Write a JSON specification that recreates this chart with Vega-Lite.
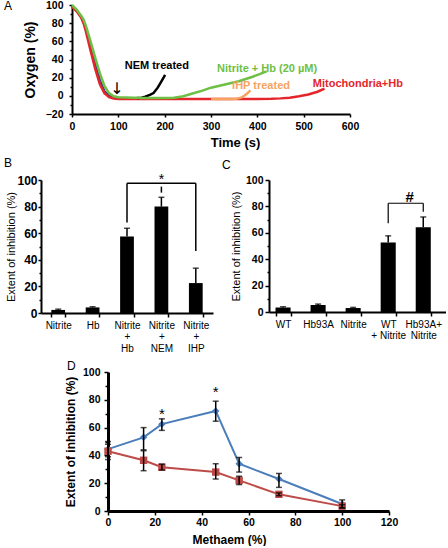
{
"$schema": "https://vega.github.io/schema/vega-lite/v6.json",
"background": "white",
"padding": {"left": 4, "top": 0, "right": 0, "bottom": 0},
"config": {
  "font": "Liberation Sans",
  "view": {"stroke": null},
  "axis": {"grid": false, "domainColor": "#000", "tickColor": "#000", "labelColor": "#000", "titleColor": "#000", "labelFont": "Liberation Sans", "titleFont": "Liberation Sans", "labelFontWeight": "bold", "titleFontWeight": "bold", "domainWidth": 2, "tickWidth": 1.5, "labelOverlap": false, "labelFlush": false},
  "title": {"font": "Liberation Sans", "fontSize": 12, "fontWeight": "normal", "anchor": "start", "frame": "group", "color": "#000"}
},
"resolve": {"scale": {"color": "independent", "shape": "independent"}},
"datasets": {
  "curves": [
    {"s":"Mito","t":0,"o":99},{"s":"Mito","t":10,"o":94},{"s":"Mito","t":20,"o":87},{"s":"Mito","t":30,"o":74},{"s":"Mito","t":40,"o":54},{"s":"Mito","t":50,"o":35},{"s":"Mito","t":60,"o":17},{"s":"Mito","t":70,"o":5},{"s":"Mito","t":80,"o":0},{"s":"Mito","t":90,"o":-2},{"s":"Mito","t":100,"o":-3},{"s":"Mito","t":150,"o":-3.2},{"s":"Mito","t":200,"o":-3.2},
    {"s":"MitoHb","t":0,"o":98},{"s":"MitoHb","t":10,"o":93},{"s":"MitoHb","t":20,"o":86},{"s":"MitoHb","t":25,"o":80},{"s":"MitoHb","t":30,"o":71},{"s":"MitoHb","t":40,"o":50},{"s":"MitoHb","t":50,"o":30},{"s":"MitoHb","t":60,"o":13},{"s":"MitoHb","t":70,"o":3},{"s":"MitoHb","t":80,"o":-1.5},{"s":"MitoHb","t":90,"o":-3},{"s":"MitoHb","t":100,"o":-3.5},{"s":"MitoHb","t":150,"o":-3.5},{"s":"MitoHb","t":200,"o":-3.5},{"s":"MitoHb","t":250,"o":-3.5},{"s":"MitoHb","t":300,"o":-3.5},{"s":"MitoHb","t":350,"o":-3.5},{"s":"MitoHb","t":400,"o":-3.5},{"s":"MitoHb","t":430,"o":-3.3},{"s":"MitoHb","t":450,"o":-2.8},{"s":"MitoHb","t":470,"o":-2},{"s":"MitoHb","t":490,"o":-0.5},{"s":"MitoHb","t":510,"o":1.5},{"s":"MitoHb","t":530,"o":4.5},{"s":"MitoHb","t":545,"o":8},
    {"s":"IHP","t":300,"o":-3.4},{"s":"IHP","t":340,"o":-3.4},{"s":"IHP","t":355,"o":-3.2},{"s":"IHP","t":365,"o":-2},{"s":"IHP","t":372,"o":0},{"s":"IHP","t":378,"o":2.5},{"s":"IHP","t":385,"o":6},
    {"s":"NEM","t":140,"o":-2.5},{"s":"NEM","t":150,"o":-2},{"s":"NEM","t":158,"o":-1},{"s":"NEM","t":168,"o":1},{"s":"NEM","t":176,"o":3},{"s":"NEM","t":185,"o":9},{"s":"NEM","t":193,"o":16},{"s":"NEM","t":201,"o":23},
    {"s":"NitriteHb","t":0,"o":100},{"s":"NitriteHb","t":10,"o":95},{"s":"NitriteHb","t":20,"o":88},{"s":"NitriteHb","t":25,"o":84},{"s":"NitriteHb","t":30,"o":77},{"s":"NitriteHb","t":40,"o":60},{"s":"NitriteHb","t":50,"o":42},{"s":"NitriteHb","t":60,"o":25},{"s":"NitriteHb","t":70,"o":11},{"s":"NitriteHb","t":80,"o":3},{"s":"NitriteHb","t":90,"o":-0.5},{"s":"NitriteHb","t":100,"o":-1.5},{"s":"NitriteHb","t":150,"o":-2.5},{"s":"NitriteHb","t":200,"o":-2.5},{"s":"NitriteHb","t":220,"o":-2},{"s":"NitriteHb","t":240,"o":-0.5},{"s":"NitriteHb","t":260,"o":2.5},{"s":"NitriteHb","t":280,"o":5.5},{"s":"NitriteHb","t":300,"o":9},{"s":"NitriteHb","t":330,"o":12.5},{"s":"NitriteHb","t":360,"o":16},{"s":"NitriteHb","t":390,"o":21},{"s":"NitriteHb","t":420,"o":27}
  ],
  "labelsA": [
    {"s":"NEM","label":"NEM treated","t":183,"o":33},
    {"s":"NitriteHb","label":"Nitrite + Hb (20 µM)","t":421,"o":30},
    {"s":"IHP","label":"IHP treated","t":408,"o":11},
    {"s":"MitoHb","label":"Mitochondria+Hb","t":617,"o":13}
  ],
  "arrowA": [{"label":"↓","t":97,"o":8}],
  "barsB": [
    {"c":"Nitrite","v":2.3,"hi":2.9},
    {"c":"Hb","v":4.2,"hi":4.7},
    {"c":"Nitrite|+|Hb","v":57.5,"hi":63.7},
    {"c":"Nitrite|+|NEM","v":80,"hi":87},
    {"c":"Nitrite|+|IHP","v":22.5,"hi":33.7}
  ],
  "bracketB": [
    {"c":"Nitrite|+|Hb","c2":"Nitrite|+|Hb","v":68,"v2":97.5},
    {"c":"Nitrite|+|Hb","c2":"Nitrite|+|IHP","v":97.5,"v2":97.5},
    {"c":"Nitrite|+|IHP","c2":"Nitrite|+|IHP","v":46.7,"v2":97.5},
    {"c":"Nitrite|+|NEM","c2":"Nitrite|+|NEM","v":90.5,"v2":95}
  ],
  "starB": [{"c":"Nitrite|+|NEM","v":100,"t":"*"}],
  "barsC": [
    {"c":"WT","v":3.5,"hi":4},
    {"c":"Hb93A","v":5.3,"hi":6},
    {"c":"Nitrite","v":3,"hi":3.5},
    {"c":"WT|+ Nitrite","v":52.7,"hi":57.7},
    {"c":"Hb93A+|Nitrite","v":64.2,"hi":72}
  ],
  "bracketC": [
    {"c":"WT|+ Nitrite","c2":"WT|+ Nitrite","v":67.3,"v2":82.4},
    {"c":"WT|+ Nitrite","c2":"Hb93A+|Nitrite","v":82.4,"v2":82.4},
    {"c":"Hb93A+|Nitrite","c2":"Hb93A+|Nitrite","v":76,"v2":82.4}
  ],
  "hashC": [{"c":"Hb93A+|Nitrite","v":87,"t":"#"}],
  "dataD": [
    {"s":"s1","x":0,"y":44.5,"lo":39,"hi":50},
    {"s":"s1","x":15.2,"y":53,"lo":44,"hi":60},
    {"s":"s1","x":23,"y":62.5,"lo":58,"hi":66.3},
    {"s":"s1","x":46,"y":72,"lo":64.6,"hi":79},
    {"s":"s1","x":56,"y":34,"lo":28,"hi":38.5},
    {"s":"s1","x":73,"y":23,"lo":17,"hi":27},
    {"s":"s1","x":100,"y":5,"lo":2,"hi":8},
    {"s":"s2","x":0,"y":43,"lo":37,"hi":48},
    {"s":"s2","x":15.2,"y":36.5,"lo":29,"hi":43.4},
    {"s":"s2","x":23,"y":31.5,"lo":29.5,"hi":33.7},
    {"s":"s2","x":46,"y":28,"lo":23,"hi":34},
    {"s":"s2","x":56,"y":22,"lo":19,"hi":25},
    {"s":"s2","x":73,"y":12,"lo":11,"hi":13},
    {"s":"s2","x":100,"y":3.5,"lo":2.5,"hi":4.5}
  ],
  "starsD": [{"x":23,"y":70,"t":"*"},{"x":46,"y":85.5,"t":"*"}]
},
"spacing": 7,
"vconcat": [
  {
    "width": 309, "height": 109,
    "title": {"text": "A", "dx": -37, "dy": 17},
    "data": {"name": "curves"},
    "layer": [
      {"transform": [{"filter": "datum.s === 'Mito'"}], "mark": {"type": "line", "strokeWidth": 2.5},
       "encoding": {
         "x": {"field": "t", "type": "quantitative", "scale": {"domain": [0, 600], "range": [31, 309]}, "axis": {"values": [0,100,200,300,400,500,600], "tickCount": 50, "title": "Time (s)", "labelFontSize": 10.5, "titleFontSize": 13, "tickSize": 3, "labelPadding": 4, "titlePadding": 5, "titleX": 194}},
         "y": {"field": "o", "type": "quantitative", "scale": {"domain": [-20, 100]}, "axis": {"offset": -31, "values": [-20,-10,0,10,20,30,40,50,60,70,80,90,100], "tickCount": 50, "labelExpr": "datum.value % 20 === 0 ? datum.label : ''", "tickSize": {"condition": {"test": "datum.value % 20 !== 0", "value": 2}, "value": 3}, "labelFontSize": 10.5, "labelPadding": 6, "title": "Oxygen (%)", "titleFontSize": 14, "titlePadding": 8}},
         "color": {"field": "s", "type": "nominal", "scale": {"domain": ["Mito","MitoHb","IHP","NEM","NitriteHb"], "range": ["#2a3d8f","#e4262c","#f5a35e","#000000","#6dbf45"]}, "legend": null}
       }},
      {"transform": [{"filter": "datum.s === 'MitoHb'"}], "mark": {"type": "line", "strokeWidth": 2.5},
       "encoding": {"x": {"field": "t", "type": "quantitative"}, "y": {"field": "o", "type": "quantitative"}, "color": {"field": "s", "type": "nominal", "legend": null}}},
      {"transform": [{"filter": "datum.s === 'IHP'"}], "mark": {"type": "line", "strokeWidth": 2.5},
       "encoding": {"x": {"field": "t", "type": "quantitative"}, "y": {"field": "o", "type": "quantitative"}, "color": {"field": "s", "type": "nominal", "legend": null}}},
      {"transform": [{"filter": "datum.s === 'NEM'"}], "mark": {"type": "line", "strokeWidth": 2.5},
       "encoding": {"x": {"field": "t", "type": "quantitative"}, "y": {"field": "o", "type": "quantitative"}, "color": {"field": "s", "type": "nominal", "legend": null}}},
      {"transform": [{"filter": "datum.s === 'NitriteHb'"}], "mark": {"type": "line", "strokeWidth": 2.5},
       "encoding": {"x": {"field": "t", "type": "quantitative"}, "y": {"field": "o", "type": "quantitative"}, "color": {"field": "s", "type": "nominal", "legend": null}}},
      {"data": {"name": "labelsA"}, "mark": {"type": "text", "fontWeight": "bold", "fontSize": 11},
       "encoding": {"x": {"field": "t", "type": "quantitative"}, "y": {"field": "o", "type": "quantitative"}, "text": {"field": "label"}, "color": {"field": "s", "type": "nominal", "legend": null}}},
      {"data": {"name": "arrowA"}, "mark": {"type": "text", "fontSize": 16, "color": "#000", "font": "DejaVu Sans"},
       "encoding": {"x": {"field": "t", "type": "quantitative"}, "y": {"field": "o", "type": "quantitative"}, "text": {"field": "label"}}}
    ]
  },
  {
    "spacing": 9,
    "hconcat": [
      {
        "width": 172, "height": 133,
        "title": {"text": "B", "dx": -37, "dy": 1},
        "layer": [
          {"data": {"name": "barsB"}, "mark": {"type": "bar", "color": "#000"},
           "encoding": {
             "x": {"field": "c", "type": "nominal", "sort": null, "scale": {"domain": ["Nitrite","Hb","Nitrite|+|Hb","Nitrite|+|NEM","Nitrite|+|IHP"], "paddingInner": 0.6, "paddingOuter": 0.3}, "axis": {"title": null, "labelExpr": "split(datum.label, '|')", "labelAngle": 0, "labelFontWeight": "normal", "labelFontSize": 10, "labelLineHeight": 11.5, "labelPadding": 3, "labelBaseline": "top", "tickBand": "extent", "tickSize": 4}},
             "y": {"field": "v", "type": "quantitative", "scale": {"domain": [0, 100]}, "axis": {"values": [0,10,20,30,40,50,60,70,80,90,100], "tickCount": 50, "labelExpr": "datum.value % 20 === 0 ? datum.label : ''", "tickSize": {"condition": {"test": "datum.value % 20 !== 0", "value": 2}, "value": 3}, "labelFontSize": 12, "labelPadding": 1, "title": "Extent of inhibition (%)", "titleFontWeight": "normal", "titleFontSize": 11, "titlePadding": 0}}
           }},
          {"data": {"name": "barsB"}, "mark": {"type": "rule", "color": "#000", "strokeWidth": 1.5},
           "encoding": {"x": {"field": "c", "type": "nominal"}, "y": {"field": "v", "type": "quantitative"}, "y2": {"field": "hi"}}},
          {"data": {"name": "barsB"}, "mark": {"type": "tick", "color": "#000", "thickness": 1.5, "size": 6, "orient": "horizontal"},
           "encoding": {"x": {"field": "c", "type": "nominal"}, "y": {"field": "hi", "type": "quantitative"}}},
          {"data": {"name": "bracketB"}, "mark": {"type": "rule", "color": "#000", "strokeWidth": 1.5},
           "encoding": {"x": {"field": "c", "type": "nominal"}, "x2": {"field": "c2"}, "y": {"field": "v", "type": "quantitative"}, "y2": {"field": "v2"}}},
          {"data": {"name": "starB"}, "mark": {"type": "text", "fontSize": 14, "color": "#000"},
           "encoding": {"x": {"field": "c", "type": "nominal"}, "y": {"field": "v", "type": "quantitative"}, "text": {"field": "t"}}}
        ]
      },
      {
        "width": 177, "height": 132,
        "title": {"text": "C", "dx": -47, "dy": 1},
        "layer": [
          {"data": {"name": "barsC"}, "mark": {"type": "bar", "color": "#000"},
           "encoding": {
             "x": {"field": "c", "type": "nominal", "sort": null, "scale": {"domain": ["WT","Hb93A","Nitrite","WT|+ Nitrite","Hb93A+|Nitrite"], "paddingInner": 0.57, "paddingOuter": 0.31, "align": 0.3}, "axis": {"title": null, "labelExpr": "split(datum.label, '|')", "labelAngle": 0, "labelFontWeight": "normal", "labelFontSize": 10, "labelLineHeight": 11.5, "labelPadding": 3, "labelBaseline": "top", "tickBand": "extent", "tickSize": 4}},
             "y": {"field": "v", "type": "quantitative", "scale": {"domain": [0, 100]}, "axis": {"values": [0,10,20,30,40,50,60,70,80,90,100], "tickCount": 50, "labelExpr": "datum.value % 20 === 0 ? datum.label : ''", "tickSize": {"condition": {"test": "datum.value % 20 !== 0", "value": 2}, "value": 4}, "labelFontSize": 10.5, "labelPadding": 2, "title": "Extent of inhibition (%)", "titleFontWeight": "normal", "titleFontSize": 11, "titlePadding": 4}}
           }},
          {"data": {"name": "barsC"}, "mark": {"type": "rule", "color": "#000", "strokeWidth": 1.5},
           "encoding": {"x": {"field": "c", "type": "nominal"}, "y": {"field": "v", "type": "quantitative"}, "y2": {"field": "hi"}}},
          {"data": {"name": "barsC"}, "mark": {"type": "tick", "color": "#000", "thickness": 1.5, "size": 6, "orient": "horizontal"},
           "encoding": {"x": {"field": "c", "type": "nominal"}, "y": {"field": "hi", "type": "quantitative"}}},
          {"data": {"name": "bracketC"}, "mark": {"type": "rule", "color": "#000", "strokeWidth": 1.2},
           "encoding": {"x": {"field": "c", "type": "nominal"}, "x2": {"field": "c2"}, "y": {"field": "v", "type": "quantitative"}, "y2": {"field": "v2"}}},
          {"data": {"name": "hashC"}, "mark": {"type": "text", "fontSize": 15, "fontWeight": "bold", "color": "#000"},
           "encoding": {"x": {"field": "c", "type": "nominal", "bandPosition": -0.4}, "y": {"field": "v", "type": "quantitative"}, "text": {"field": "t"}}}
        ]
      }
    ]
  },
  {
    "width": 348, "height": 139,
    "title": {"text": "D", "dx": 26, "dy": 10},
    "layer": [
      {"data": {"name": "dataD"}, "mark": {"type": "line", "strokeWidth": 2},
       "encoding": {
         "x": {"field": "x", "type": "quantitative", "scale": {"domain": [0, 120], "range": [67, 348]}, "axis": {"values": [0,20,40,60,80,100,120], "tickCount": 50, "domainWidth": 3, "tickSize": 4, "labelFontSize": 10.5, "labelPadding": 2, "title": "Methaem (%)", "titleFontSize": 12, "titlePadding": 7, "titleX": 188}},
         "y": {"field": "y", "type": "quantitative", "scale": {"domain": [0, 100]}, "axis": {"offset": -67, "values": [0,10,20,30,40,50,60,70,80,90,100], "tickCount": 50, "labelExpr": "datum.value % 20 === 0 ? datum.label : ''", "tickSize": {"condition": {"test": "datum.value % 20 !== 0", "value": 3}, "value": 4}, "domainWidth": 3, "labelFontSize": 10.5, "labelPadding": 4, "title": "Extent of inhibition (%)", "titleFontSize": 12, "titlePadding": 5}},
         "color": {"field": "s", "type": "nominal", "scale": {"domain": ["s1","s2"], "range": ["#4a7ebb","#be4b48"]}, "legend": null}
       }},
      {"data": {"name": "dataD"}, "mark": {"type": "point", "filled": true, "opacity": 1, "size": 55},
       "encoding": {"x": {"field": "x", "type": "quantitative"}, "y": {"field": "y", "type": "quantitative"}, "color": {"field": "s", "type": "nominal", "legend": null}, "shape": {"field": "s", "type": "nominal", "scale": {"domain": ["s1","s2"], "range": ["diamond","square"]}, "legend": null}}},
      {"data": {"name": "dataD"}, "mark": {"type": "rule", "color": "#000", "strokeWidth": 1.5},
       "encoding": {"x": {"field": "x", "type": "quantitative"}, "y": {"field": "lo", "type": "quantitative"}, "y2": {"field": "hi"}}},
      {"data": {"name": "dataD"}, "mark": {"type": "tick", "color": "#000", "thickness": 1.5, "size": 6, "orient": "horizontal"},
       "encoding": {"x": {"field": "x", "type": "quantitative"}, "y": {"field": "lo", "type": "quantitative"}}},
      {"data": {"name": "dataD"}, "mark": {"type": "tick", "color": "#000", "thickness": 1.5, "size": 6, "orient": "horizontal"},
       "encoding": {"x": {"field": "x", "type": "quantitative"}, "y": {"field": "hi", "type": "quantitative"}}},
      {"data": {"name": "starsD"}, "mark": {"type": "text", "fontSize": 15, "baseline": "middle", "color": "#000"},
       "encoding": {"x": {"field": "x", "type": "quantitative"}, "y": {"field": "y", "type": "quantitative"}, "text": {"field": "t"}}}
    ]
  }
]
}
